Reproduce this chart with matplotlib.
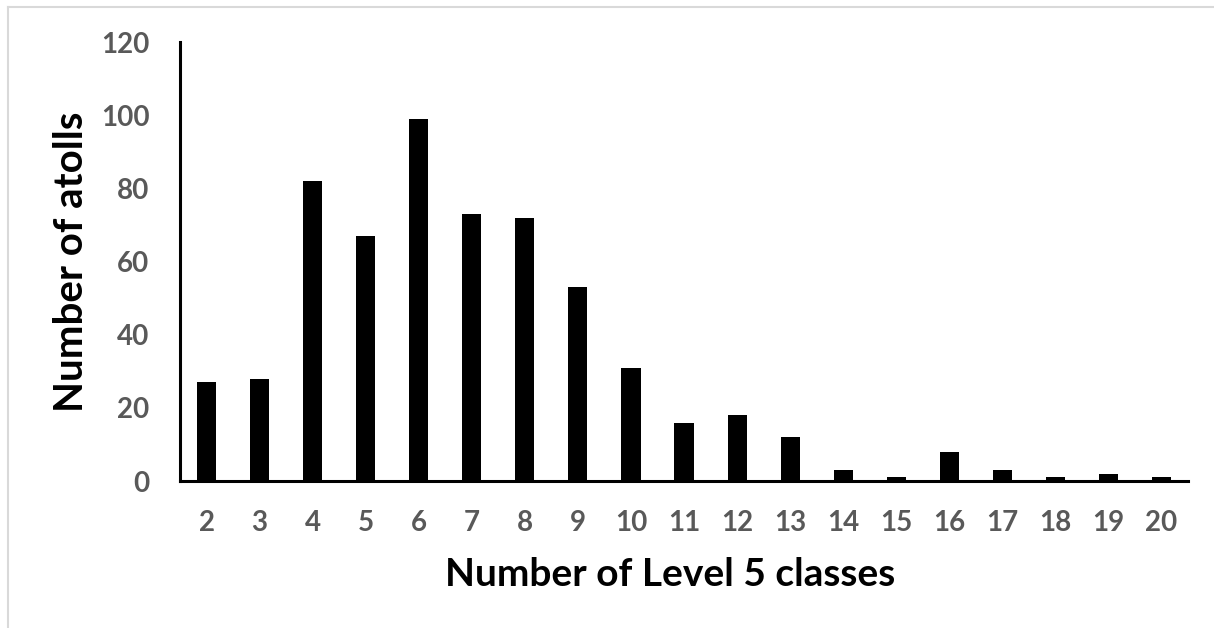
import matplotlib
matplotlib.use("Agg")
import matplotlib.pyplot as plt
from matplotlib.lines import Line2D

# Number of Level 5 classes per atoll -> count of atolls
CLASSES = [str(c) for c in range(2, 21)]
ATOLLS = [27, 28, 82, 67, 99, 73, 72, 53, 31, 16, 18, 12, 3, 1, 8, 3, 1, 2, 1]
Y_TICKS = [0, 20, 40, 60, 80, 100, 120]

FONT = ["Lato", "DejaVu Sans"]
TICK_GREY = "#595959"

plt.rcParams["font.family"] = FONT

fig = plt.figure(figsize=(12.14, 6.28), dpi=100)
fig.patch.set_facecolor("white")
ax = fig.add_axes([0.1483, 0.234, 0.9786 - 0.1483, 0.933 - 0.234])

xs = range(len(CLASSES))
ax.bar(xs, ATOLLS, width=0.36, color="black", zorder=2)

ax.set_xlim(-0.5, len(CLASSES) - 0.5)
ax.set_ylim(0, 120)
ax.set_xticks(list(xs))
ax.set_xticklabels(CLASSES)
ax.set_yticks(Y_TICKS)

for side in ("top", "right"):
    ax.spines[side].set_visible(False)
for side in ("left", "bottom"):
    ax.spines[side].set_linewidth(2.2)
    ax.spines[side].set_color("black")

ax.tick_params(axis="both", length=0, labelsize=20, labelcolor=TICK_GREY)
ax.tick_params(axis="x", pad=21)
ax.tick_params(axis="y", pad=22)
for lbl in ax.get_xticklabels() + ax.get_yticklabels():
    lbl.set_fontweight("bold")

ax.set_xlabel("Number of Level 5 classes", fontsize=28, fontweight="bold",
              labelpad=15)
ax.set_ylabel("Number of atolls", fontsize=29, fontweight="bold", labelpad=8)
# the title of the x axis sits a little left of the plot centre
ax.xaxis.label.set_x(0.486)

# light frame around the chart area
fig.add_artist(Line2D([8 / 1214, 1.0], [1 - 7 / 628, 1 - 7 / 628],
                      transform=fig.transFigure, color="#d9d9d9", lw=1.5))
fig.add_artist(Line2D([8 / 1214, 8 / 1214], [1 - 7 / 628, 0.0],
                      transform=fig.transFigure, color="#d9d9d9", lw=1.5))

fig.savefig("out.png", dpi=100, facecolor="white")
